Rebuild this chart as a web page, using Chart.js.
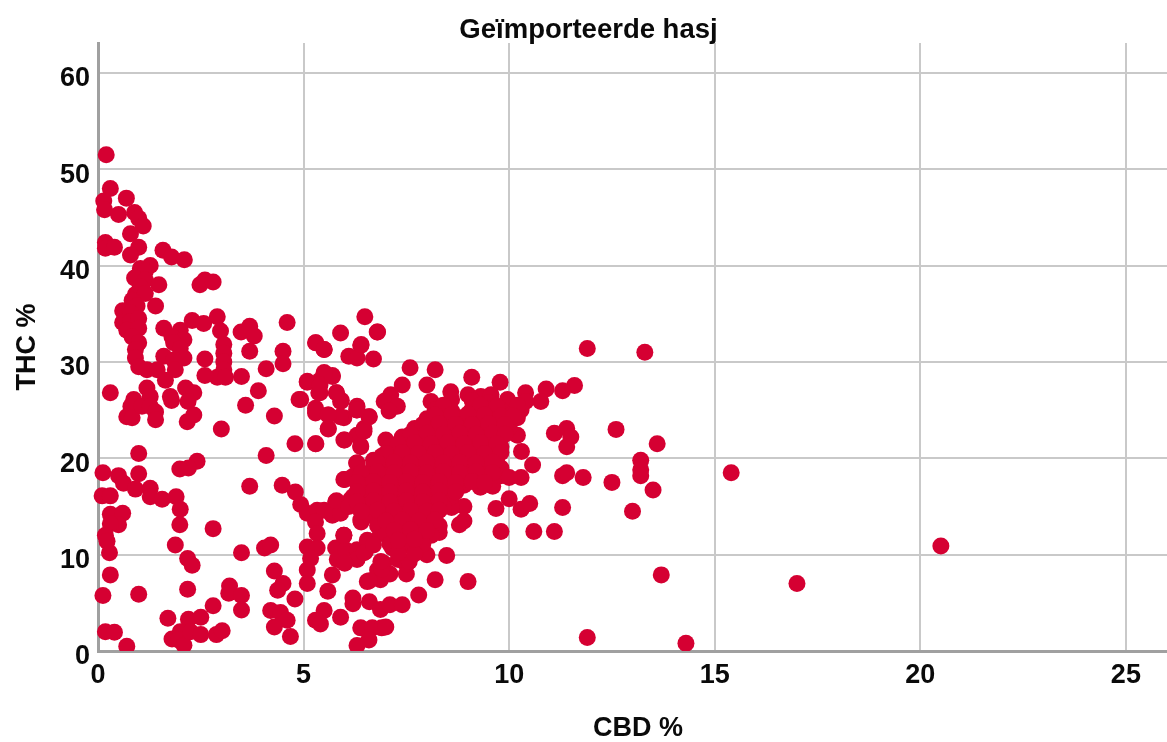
<!DOCTYPE html>
<html><head><meta charset="utf-8">
<style>html,body{margin:0;padding:0;background:#fff}#w{width:1167px;height:742px;position:relative}</style>
<script src="https://cdn.jsdelivr.net/npm/chart.js@4"></script></head>
<body><div id="w"><canvas id="c" width="1167" height="742"></canvas></div>
<script>
const titleText = "Geïmporteerde hasj";
const xTitle = "CBD %";
const yTitle = "THC %";
const xTicks = [0,5,10,15,20,25];
const yTicks = [0,10,20,30,40,50,60];
const upperLeft = [[.2,51.5],[.3,48],[.69,47],[.14,46.7],[.16,45.8],[.5,45.3],[.89,45.5],[.99,44.9],[1.1,44.1],[.79,43.3],[.18,42.4],[.18,41.8],[.4,41.9],[.99,41.9],[.79,41.1],[1.58,41.6],[1.79,40.9],[2.1,40.6],[1.27,40],[1.03,39.7],[1.15,39.4],[.89,38.7],[1.15,38.5],[1.48,38],[1.03,37.8],[.91,37],[1.15,37.1],[.83,36.4],[1.4,35.8],[.6,35.3],[.95,35.8],[.79,35.1],[.6,34.1],[.79,34.2],[.99,34.5],[.7,33.3],[.99,33.5],[.83,32.6],[.99,32],[.91,31.3],[.91,30.4],[.99,29.5],[1.19,29.2],[1.44,29.2],[1.6,30.6],[2.9,34.7],[2.29,34.3],[2.57,34],[1.6,33.5],[2,33.3],[1.8,32.6],[2.09,32.3],[1.84,32],[2,31.4],[2.09,30.4],[1.84,30.2],[1.88,29.2],[2.98,33.2],[3.06,31.8],[3.06,30.9],[3.06,30],[3.06,29.2],[2.9,28.4],[3.1,28.4],[2.6,30.3],[2.6,28.6],[2.48,38],[2.6,38.5],[2.8,38.3],[3.48,33.1],[3.69,33.7],[3.8,32.7],[3.69,31.1],[4.6,34.1],[4.5,31.1],[4.5,29.8],[4.09,29.3],[3.49,28.5],[3.9,27],[.3,26.8],[.87,26.1],[1.19,27.3],[1.27,26.4],[1.64,28.1],[1.76,26.4],[2.13,27.3],[2.33,26.8],[3.59,25.5],[4.89,26.1],[5.09,27.9],[5.5,28.9],[5.7,28.6],[5.4,28.1],[5.37,26.8],[5.8,26.8],[5.92,26],[5.29,25.2],[6.3,25.4],[5.29,32],[5.5,31.3],[5.9,33],[6.49,34.7],[6.79,33.1],[6.39,31.7],[6.1,30.6],[6.3,30.4],[6.7,30.3],[7.04,26.1]];
const lowerLeft = [[.8,25.4],[.7,24.3],[.83,24.2],[1.07,25.4],[1.27,25.4],[1.4,24.8],[1.4,24],[1.79,26],[2.19,25.9],[2.17,23.8],[2.33,24.5],[4.29,24.4],[3,23.05],[4.79,21.5],[5.29,21.5],[4.09,20.3],[.99,20.5],[2.41,19.7],[2.2,19],[1.99,18.9],[.12,18.5],[.99,18.4],[.5,18.2],[.62,17.4],[.91,16.8],[1.27,16.9],[1.27,16],[1.56,15.75],[1.9,16],[2,14.7],[1.99,13.1],[.1,16.1],[.3,16.1],[.3,14.2],[.6,14.3],[.5,13.1],[.3,13.2],[.18,12],[.22,11.4],[.28,10.2],[1.88,11],[2.18,9.6],[2.29,8.9],[2.8,12.7],[3.69,17.1],[4.48,17.2],[4.8,16.5],[4.93,15.2],[5.09,14.3],[5.33,14.6],[3.49,10.2],[4.05,10.7],[4.2,11],[.3,7.9],[.12,5.75],[.99,5.9],[2.18,6.4],[3.2,6.75],[3.18,6],[3.49,5.75],[3.49,4.26],[2.8,4.7],[4.29,8.3],[4.5,7],[4.37,6.3],[4.79,5.4],[4.2,4.2],[4.44,4],[4.6,3.2],[4.29,2.5],[4.68,1.5],[1.7,3.4],[2.5,3.5],[2.2,3.3],[.18,2],[.4,1.95],[.7,.5],[1.8,1.25],[2,2],[1.96,1.15],[2.09,.6],[2.25,2],[2.5,1.7],[2.88,1.7],[3.02,2.1],[5.09,8.4],[5.09,7],[5.59,6.2],[5.7,7.9],[5.5,4.2],[5.29,3.2],[5.41,2.8],[5.9,3.5],[6.2,5.5],[6.2,4.9],[6.6,5.1],[6.87,4.3],[7.1,4.8],[6.39,2.4],[6.67,2.4],[6.9,2.4],[6.59,1.15],[6.3,.56],[5.29,24.7],[5.6,24.5],[5.6,23.05],[5.98,24.2],[6.3,25],[6.59,24.3],[6.47,23.1],[5.98,21.9],[6.3,22.4],[6.39,21.2],[7,21.9],[6.3,19.5],[5.98,17.8],[6.7,19.8],[6.55,18.1],[5.78,15.5],[5.5,14.6],[5.7,14.1],[5.9,14.3],[6.14,15.7],[6.4,16.7],[6.7,15.7],[6.39,13.6],[5.29,13.4],[5.33,12.2],[5.98,12],[5.09,10.8],[5.33,10.7],[5.17,9.6],[5.78,10.7],[5.82,9.5],[6.02,10.5],[6.3,10.5],[6.5,10.3],[6.55,11.5],[6.3,9.5],[6,9.1],[6.87,12.2],[6.95,9.1],[6.8,8.4],[6.55,7.2],[6.87,7.4],[7.4,4.8],[7.8,5.8],[8.2,7.4],[9,7.2],[7.5,8],[7.5,9],[7.1,8],[6.9,8.5],[7.3,9.5],[7,2.5],[6.6,7.3]];
const rightSide = [[11.9,31.4],[7.59,29.4],[8.2,29.2],[9.09,28.4],[9.78,27.9],[8,27.6],[7.4,27.6],[7.12,26.6],[6.96,25.9],[7.28,25.4],[7.08,24.9],[11.59,27.55],[11.3,27],[10.9,27.2],[10.4,26.8],[10.77,25.9],[8.58,26.9],[8.1,25.9],[9,26.6],[9.31,26.4],[9.56,26.6],[9.96,26.1],[10.29,25],[10.2,24.2],[10.2,22.4],[10.3,20.7],[10.57,19.3],[10.29,18],[9.6,17.1],[10,15.8],[9.68,14.8],[10.29,14.7],[10.5,15.3],[9.8,12.4],[10.6,12.4],[11.1,12.4],[11.3,14.9],[11.8,18],[11.3,18.2],[11.4,18.5],[11.1,22.6],[11.4,23.1],[11.5,22.2],[11.4,21.2],[8.48,9.9],[8.9,15],[8.6,14.9],[8.9,13.5],[8.79,13.1],[8.3,12.3],[8,10],[7.57,9.3],[6.88,9.3],[7.16,10.7],[6.47,10.2],[5.98,12],[6.4,13.4],[5.8,15.6],[6,17.8],[6.29,19.5],[5.3,21.5],[6,21.9],[6.39,21.3],[6.47,22.8],[6.6,24.3],[6.29,25],[5.89,24.3],[5.6,23.1],[5.3,24.9],[5.6,24.5],[5.9,25.9],[5.8,26.8],[5.4,26.8],[5.09,28],[5.7,28.5],[5.5,28.8],[5.4,27.6],[5.3,32],[5.5,31.3],[6.8,33.1],[6.4,31.8],[4.93,26.1],[13.3,31],[12.6,23],[13.6,21.5],[13.2,19.8],[13.2,18.8],[13.2,18.2],[12.5,17.5],[13.5,16.7],[13,14.5],[13.7,7.9],[15.4,18.5],[17,7],[20.5,10.9],[11.9,1.4],[14.3,.8]];
const cluster = [[8.6,26.1],[9.1,26],[9.5,25.8],[10,25.7],[10.4,25.9],[8.2,25],[8.6,24.9],[9.1,25.1],[9.4,24.8],[9.8,25],[10.1,24.7],[8,24.1],[8.4,24],[8.8,24.2],[9.2,24],[9.6,24.1],[9.9,23.9],[7.7,23.1],[8.1,23.2],[8.5,23],[8.9,23.1],[9.3,23.2],[9.7,23],[10,23.2],[7.4,22.2],[7.8,22],[8.2,22.1],[8.6,22.2],[9,22],[9.4,22.1],[9.8,22.2],[7.1,21.2],[7.5,21],[7.9,21.1],[8.3,21.2],[8.7,21],[9.1,21.2],[9.5,21],[9.8,21.2],[6.9,20.2],[7.3,20],[7.7,20.1],[8.1,20.2],[8.5,20],[8.9,20.1],[9.3,20.2],[9.7,20],[6.7,19.1],[7.1,19],[7.5,19.2],[7.9,19],[8.3,19.1],[8.7,19.2],[9.1,19],[9.5,19.1],[9.8,19],[6.2,18.1],[6.6,18],[7,18.2],[7.4,18],[7.8,18.1],[8.2,18.2],[8.6,18],[9,18.2],[9.4,18],[9.8,18.2],[10,18],[6.5,17],[6.9,17.1],[7.3,17.2],[7.7,17],[8.1,17.1],[8.5,17],[8.9,17.2],[9.3,17],[6.2,16],[6.6,16.1],[7,16],[7.4,16.2],[7.8,16],[8.2,16.1],[8.6,16],[6.1,15],[6.5,15.1],[6.9,15],[7.3,15.2],[7.7,15],[8.1,15.1],[8.4,15],[6.6,14.1],[7,14],[7.4,14.2],[7.8,14],[8.2,14.1],[6.8,13],[7.2,13.1],[7.6,13],[8,13.2],[8.3,13],[7,12.1],[7.4,12],[7.8,12.2],[8.1,12],[6.7,11],[7.1,11.1],[7.5,11],[7.9,11.1],[7.3,10.2],[7.7,10.1]];
const clusterFill = [[8.4,25.5],[9.3,25.5],[9.7,25.4],[10.2,25.5],[8.2,24.5],[8.6,24.5],[9,24.6],[9.4,24.5],[9.8,24.4],[10.1,24.4],[7.9,23.5],[8.3,23.6],[8.7,23.5],[9.1,23.5],[9.5,23.6],[9.9,23.5],[7.6,22.5],[8,22.6],[8.4,22.5],[8.8,22.6],[9.2,22.5],[9.6,22.6],[9.9,22.5],[7.3,21.5],[7.7,21.6],[8.1,21.5],[8.5,21.6],[8.9,21.5],[9.3,21.6],[9.7,21.5],[7,20.5],[7.4,20.6],[7.8,20.5],[8.2,20.6],[8.6,20.5],[9,20.6],[9.4,20.5],[9.8,20.6],[6.8,19.5],[7.2,19.6],[7.6,19.5],[8,19.6],[8.4,19.5],[8.8,19.6],[9.2,19.5],[9.6,19.6],[6.4,18.5],[6.8,18.6],[7.2,18.5],[7.6,18.6],[8,18.5],[8.4,18.6],[8.8,18.5],[9.2,18.6],[9.6,18.5],[6.3,17.5],[6.7,17.6],[7.1,17.5],[7.5,17.6],[7.9,17.5],[8.3,17.6],[8.7,17.5],[9.1,17.6],[9.4,17.5],[6.3,16.5],[6.7,16.6],[7.1,16.5],[7.5,16.6],[7.9,16.5],[8.3,16.6],[8.7,16.5],[6.3,15.5],[6.7,15.6],[7.1,15.5],[7.5,15.6],[7.9,15.5],[8.3,15.6],[6.4,14.5],[6.8,14.6],[7.2,14.5],[7.6,14.6],[8,14.5],[8.3,14.6],[7,13.5],[7.4,13.6],[7.8,13.5],[8.2,13.6],[7.2,12.5],[7.6,12.6],[8,12.5],[7.3,11.5],[7.7,11.6]];
const groups = [upperLeft, lowerLeft, rightSide, cluster, clusterFill];
const cbd = groups.flat().map(p => p[0]);
const thc = groups.flat().map(p => p[1]);
const font = (s,l) => ({family:'"Liberation Sans", Arial, sans-serif', size:s, weight:'bold', lineHeight:l||1.2});
const shiftXTitle = {id:'shiftXTitle', afterLayout(chart){
  const s = chart.scales.x, ctx = chart.ctx;
  if(s._shifted) return; s._shifted = true;
  const orig = s.drawTitle;
  s.drawTitle = function(){ ctx.save(); ctx.translate(5.5,0); orig.call(this); ctx.restore(); };
}};
new Chart(document.getElementById('c'), {
  type:'scatter',
  plugins:[shiftXTitle],
  data:{datasets:[{
    data:cbd.map((v,i)=>({x:v,y:thc[i]})),
    backgroundColor:'#d50032', borderColor:'#d50032', borderWidth:0,
    pointRadius:8.5, pointHoverRadius:8.5, clip:{left:9,right:0,top:0,bottom:0}
  }]},
  options:{
    responsive:false, animation:false, events:[],
    layout:{autoPadding:false,padding:{left:10,right:0,top:16,bottom:0}},
    plugins:{legend:{display:false},tooltip:{enabled:false},
      title:{display:true,text:titleText,color:'#0a0a0a',font:font(27.5,1),padding:{top:1,bottom:-1.5}}},
    scales:{
      x:{type:'linear',min:0,max:26,
        afterBuildTicks:a=>{a.ticks=xTicks.map(v=>({value:v}))},
        afterFit:s=>{s.paddingRight=0;s.paddingLeft=0;s.height=91},
        grid:{color:'#c9c9c9',lineWidth:2,drawTicks:false},
        border:{color:'#a0a0a0',width:3},
        ticks:{color:'#0a0a0a',font:font(27,1),padding:11,maxRotation:0,autoSkip:false},
        title:{display:true,text:xTitle,color:'#0a0a0a',font:font(27,1),padding:{top:0,bottom:0}}},
      y:{type:'linear',min:0,max:63.1,
        afterBuildTicks:a=>{a.ticks=yTicks.map(v=>({value:v}))},
        afterFit:s=>{s.width=88;s.paddingTop=0;s.paddingBottom=0},
        grid:{color:'#c9c9c9',lineWidth:2,drawTicks:false},
        border:{color:'#a0a0a0',width:3},
        ticks:{color:'#0a0a0a',font:font(27,1),padding:8,labelOffset:6,autoSkip:false},
        title:{display:true,text:yTitle,color:'#0a0a0a',font:font(27,1),padding:{top:4,bottom:0}}}
    }
  }
});
</script></body></html>
